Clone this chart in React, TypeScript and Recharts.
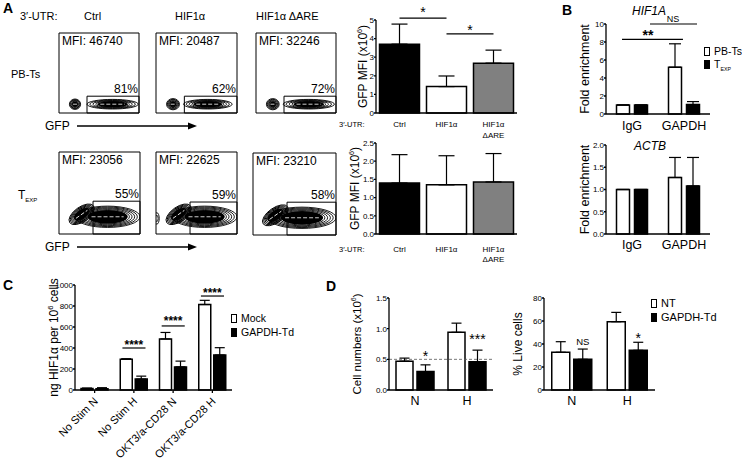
import React from 'react';
import {
  BarChart, Bar, XAxis, YAxis, Cell, ErrorBar, ReferenceLine, ReferenceDot,
  ReferenceArea, ScatterChart, Scatter,
} from 'recharts';

const FONT = '"Liberation Sans", Arial, Helvetica, sans-serif';

// ---------------- Panel A: flow cytometry ----------------
const utrLabels = ['Ctrl', 'HIF1α', 'HIF1α ΔARE'];
const pbtsMfi = ['MFI: 46740', 'MFI: 20487', 'MFI: 32246'];
const pbtsPct = ['81%', '62%', '72%'];
const texpMfi = ['MFI: 23056', 'MFI: 22625', 'MFI: 23210'];
const texpPct = ['55%', '59%', '58%'];
const pbtsGateX = [35, 35, 35];
const pbtsGateTop = [21, 21, 21];
const texpGateX = [42, 42, 41];
const texpGateTop = [40, 39, 40];
const flowTicks = [0, 5, 9, 12, 15, 18, 28, 38, 44, 48, 51, 61, 71, 77, 81, 84, 94, 100];
const pbtsBlobs = [
  [
    { x: 20, y: 11, rx: 7, ry: 6.5, rot: 0, rings: 7, core: 0.45 },
    { x: 67, y: 11, rx: 32, ry: 6, rot: 0, rings: 8, core: 0.6 },
  ],
  [
    { x: 21, y: 11, rx: 8, ry: 7, rot: 0, rings: 7, core: 0.45 },
    { x: 64, y: 11, rx: 30, ry: 6, rot: 0, rings: 8, core: 0.6 },
  ],
  [
    { x: 21, y: 11, rx: 8, ry: 7, rot: 0, rings: 7, core: 0.45 },
    { x: 66, y: 11, rx: 32, ry: 6, rot: 0, rings: 8, core: 0.6 },
  ],
];
const texpBlobs = [
  [
    { x: 60, y: 21, rx: 40, ry: 13, rot: 0, rings: 11, core: 0.62 },
    { x: 28, y: 24, rx: 18, ry: 9, rot: -35, rings: 9, core: 0.6 },
  ],
  [
    { x: 60, y: 21, rx: 40, ry: 13, rot: 0, rings: 11, core: 0.62 },
    { x: 28, y: 24, rx: 18, ry: 9, rot: -35, rings: 9, core: 0.6 },
    { x: 1, y: 19, rx: 3, ry: 7, rot: 0, rings: 2, core: 0 },
  ],
  [
    { x: 59, y: 21, rx: 41, ry: 13, rot: 0, rings: 11, core: 0.62 },
    { x: 27, y: 24, rx: 18, ry: 9, rot: -35, rings: 9, core: 0.6 },
  ],
];

// ---------------- Panel A: bar charts ----------------
const aCats = ['Ctrl', 'HIF1α', 'HIF1α\nΔARE'];
const aColors = ['#000000', '#ffffff', '#808080'];
const aPbtsMean = [3.7, 1.42, 2.68];
const aPbtsErr = [1.08, 0.57, 0.7];
const aTexpMean = [1.4, 1.35, 1.43];
const aTexpErr = [0.78, 0.8, 0.78];
// significance annotations (x as fraction of plot width)
const aSigLines = [
  { f1: 0.1667, f2: 0.5, y: 5.1 },
  { f1: 0.5, f2: 0.8333, y: 4.25 },
];
const aSigText = [
  { f: 0.3333, y: 5.45, t: '*' },
  { f: 0.6667, y: 4.45, t: '*' },
];

// ---------------- Panel B ----------------
const bCats = ['IgG', 'GAPDH'];
const bHifPbts = [1, 5.2];
const bHifPbtsErr = [0, 2.6];
const bHifTexp = [1, 1.05];
const bHifTexpErr = [0, 0.33];
const bActbPbts = [1, 1.27];
const bActbPbtsErr = [0, 0.45];
const bActbTexp = [1, 1.08];
const bActbTexpErr = [0, 0.64];
const bSigLines = [
  { f1: 0.154, f2: 0.74, y: 8.3 },
  { f1: 0.423, f2: 0.875, y: 10 },
];
const bSigText = [
  { f: 0.404, y: 8.8, t: '**', fs: 14, bold: true },
  { f: 0.644, y: 10.55, t: 'NS', fs: 9, bold: false },
];

// ---------------- Panel C ----------------
const cCats = ['No Stim N', 'No Stim H', 'OKT3/a-CD28 N', 'OKT3/a-CD28 H'];
const cMock = [15, 292, 486, 814];
const cMockErr = [3, 6, 62, 40];
const cTd = [12, 104, 220, 333];
const cTdErr = [10, 28, 55, 70];
const cSigLines = [
  { f1: 0.302, f2: 0.449, y: 400 },
  { f1: 0.552, f2: 0.699, y: 610 },
  { f1: 0.802, f2: 0.949, y: 895 },
];
const cSigText = [
  { f: 0.375, y: 430, t: '****' },
  { f: 0.625, y: 657, t: '****' },
  { f: 0.875, y: 930, t: '****' },
];

// ---------------- Panel D ----------------
const dCats = ['N', 'H'];
const dCellNT = [0.47, 0.94];
const dCellNTErr = [0.05, 0.15];
const dCellTd = [0.3, 0.46];
const dCellTdErr = [0.11, 0.19];
const dLiveNT = [32.8, 59.4];
const dLiveNTErr = [9.2, 8.1];
const dLiveTd = [26.7, 34.5];
const dLiveTdErr = [8.9, 7];
const d1SigText = [
  { f: 0.351, y: 0.55, t: '*', fs: 14 },
  { f: 0.851, y: 0.83, t: '***', fs: 14 },
];
const d2SigText = [
  { f: 0.349, y: 41.7, t: 'NS', fs: 9.5 },
  { f: 0.849, y: 45.2, t: '*', fs: 14 },
];

const aTopData = aCats.map((c, i) => ({ cat: c, v: aPbtsMean[i], e: [0, aPbtsErr[i]] }));
const aBotData = aCats.map((c, i) => ({ cat: c, v: aTexpMean[i], e: [0, aTexpErr[i]] }));
const bTopData = bCats.map((c, i) => ({ cat: c, w: bHifPbts[i], we: [0, bHifPbtsErr[i]], b: bHifTexp[i], be: [0, bHifTexpErr[i]] }));
const bBotData = bCats.map((c, i) => ({ cat: c, w: bActbPbts[i], we: [0, bActbPbtsErr[i]], b: bActbTexp[i], be: [0, bActbTexpErr[i]] }));
const cData = cCats.map((c, i) => ({ cat: c, w: cMock[i], we: [0, cMockErr[i]], b: cTd[i], be: [0, cTdErr[i]] }));
const d1Data = dCats.map((c, i) => ({ cat: c, w: dCellNT[i], we: [0, dCellNTErr[i]], b: dCellTd[i], be: [0, dCellTdErr[i]] }));
const d2Data = dCats.map((c, i) => ({ cat: c, w: dLiveNT[i], we: [0, dLiveNTErr[i]], b: dLiveTd[i], be: [0, dLiveTdErr[i]] }));

// ---------------- helpers ----------------
const Txt = ({ left, top, size = 11, children, style }: any) => (
  <div style={{ position: 'absolute', left, top, fontSize: size, lineHeight: 1, whiteSpace: 'nowrap', color: '#000', ...style }}>
    {children}
  </div>
);

const TExp = ({ size = 12 }: any) => (
  <span>T<span style={{ fontSize: size * 0.5, position: 'relative', top: size * 0.25 }}>EXP</span></span>
);

const Arrow = ({ left, top, len }: any) => (
  <svg style={{ position: 'absolute', left, top }} width={len + 2} height={10}>
    <line x1={0} y1={5} x2={len - 8} y2={5} stroke="#000" strokeWidth={1.3} />
    <polygon points={`${len - 9},1.5 ${len},5 ${len - 9},8.5`} fill="#000" />
  </svg>
);

const LegendBox = ({ left, top, fill, label, size = 11 }: any) => (
  <div style={{ position: 'absolute', left, top, display: 'flex', alignItems: 'center', whiteSpace: 'nowrap', fontSize: size, lineHeight: 1 }}>
    <div style={{ width: 4, height: 7, border: '1px solid #000', background: fill, marginRight: 4 }} />
    <span>{label}</span>
  </div>
);

function yTitle(parts: React.ReactNode, dx: number, fs: number) {
  return (props: any) => {
    const vb = props.viewBox || { x: 0, y: 0, width: 0, height: 0 };
    const x = vb.x + dx;
    const y = vb.y + vb.height / 2;
    return (
      <text x={x} y={y} transform={`rotate(-90 ${x} ${y})`} textAnchor="middle" dominantBaseline="central" fontSize={fs} fill="#000">
        {parts}
      </text>
    );
  };
}

const sup6 = (pre: string, fs: number) => [
  <tspan key="a">{pre}</tspan>,
  <tspan key="b" dy={-fs * 0.35} fontSize={fs * 0.6}>6</tspan>,
  <tspan key="c" dy={fs * 0.35}>)</tspan>,
];

const CatTick = ({ x, y, payload, fs, dy, lh }: any) => {
  const lines = String(payload.value).split('\n');
  return (
    <text x={x} y={y} textAnchor="middle" fontSize={fs} fill="#000">
      {lines.map((l, i) => (
        <tspan key={i} x={x} y={y + dy + i * lh}>{l}</tspan>
      ))}
    </text>
  );
};

const RotTick = ({ x, y, payload }: any) => (
  <text x={x + 4} y={y + 9} transform={`rotate(-45 ${x + 4} ${y + 9})`} textAnchor="end" fontSize={11} fill="#000">
    {payload.value}
  </text>
);

const makeBlobShape = (sx: number, sy: number) => (props: any) => {
  const { cx, cy, payload } = props;
  if (cx == null || cy == null) return <g />;
  const rings = [];
  for (let i = 0; i < payload.rings; i++) {
    const k = 1 - (i / payload.rings) * 0.9;
    rings.push(
      <ellipse key={i} cx={cx} cy={cy} rx={payload.rx * sx * k} ry={payload.ry * sy * k} fill="none" stroke="#000" strokeWidth={0.9} />
    );
  }
  if (payload.core > 0) {
    rings.push(
      <ellipse key="core" cx={cx} cy={cy} rx={payload.rx * sx * payload.core} ry={payload.ry * sy * payload.core} fill="#000" stroke="none" />
    );
    rings.push(
      <line key="streak" x1={cx - payload.rx * sx * payload.core * 0.8} y1={cy} x2={cx + payload.rx * sx * payload.core * 0.8} y2={cy}
        stroke="#fff" strokeWidth={0.8} strokeDasharray="4 2" />
    );
  }
  return <g transform={`rotate(${payload.rot} ${cx} ${cy})`}>{rings}</g>;
};

const pctLabel = (pct: string) => (props: any) => {
  const vb = props.viewBox || { x: 0, y: 0, width: 0, height: 0 };
  return (
    <text x={vb.x + vb.width - 1} y={vb.y - 3} textAnchor="end" fontSize={12} fill="#000">{pct}</text>
  );
};

function FlowPlot({ boxLeft, boxTop, w, h, mfi, pct, gateX, gateTop, blobs }: any) {
  const axW = 5;
  const axH = 5;
  return (
    <div style={{ position: 'absolute', left: boxLeft - axW, top: boxTop - 1 }}>
      <ScatterChart width={w + axW + 2} height={h + axH + 1} margin={{ top: 1, right: 2, bottom: 0, left: 0 }}>
        <XAxis type="number" dataKey="x" domain={[0, 100]} ticks={flowTicks} tick={false} tickSize={2} axisLine={false} height={axH} stroke="#000" allowDataOverflow />
        <YAxis type="number" dataKey="y" domain={[0, 100]} ticks={flowTicks} tick={false} tickSize={2} axisLine={false} width={axW} stroke="#000" allowDataOverflow />
        <ReferenceArea x1={0} x2={100} y1={0} y2={100} fill="none" stroke="#000" strokeWidth={1}
          label={{ value: mfi, position: 'insideTopLeft', offset: 3, fontSize: 12, fill: '#000' }} />
        <Scatter data={blobs} shape={makeBlobShape(w / 100, h / 100)} isAnimationActive={false} />
        <ReferenceArea x1={gateX} x2={100} y1={0} y2={gateTop} fill="none" stroke="#000" strokeWidth={1} label={pctLabel(pct)} />
      </ScatterChart>
    </div>
  );
}

const yTickStyle = { fontSize: 8, fill: '#000' };

// hidden helper axis "n" spans the plot width with domain [0, N-1]
const sigLines = (list: any[], n: number) =>
  list.map((s, i) => (
    <ReferenceLine key={`sl${i}`} xAxisId="n" segment={[{ x: s.f1 * (n - 1), y: s.y }, { x: s.f2 * (n - 1), y: s.y }]}
      stroke="#000" strokeWidth={1.2} ifOverflow="visible" />
  ));
const sigTexts = (list: any[], n: number, fsDefault = 14, boldDefault = false) =>
  list.map((s, i) => (
    <ReferenceDot key={`st${i}`} xAxisId="n" x={s.f * (n - 1)} y={s.y} r={0} fill="none" stroke="none" ifOverflow="visible"
      label={{ value: s.t, position: 'center', fontSize: s.fs || fsDefault, fill: '#000', fontWeight: (s.bold ?? boldDefault) ? 'bold' : 'normal' }} />
  ));

export default function App() {
  const topBoxes = [
    { l: 59, t: 33, w: 80, h: 80 },
    { l: 156, t: 33, w: 81, h: 80 },
    { l: 256, t: 33, w: 80, h: 80 },
  ];
  const botBoxes = [
    { l: 59, t: 152, w: 81, h: 82 },
    { l: 156, t: 152, w: 81, h: 82 },
    { l: 253, t: 153, w: 83, h: 82 },
  ];
  return (
    <div style={{ position: 'absolute', left: 0, top: 0, width: 742, height: 464, background: '#fff', fontFamily: FONT, color: '#000', overflow: 'hidden' }}>
      {/* Panel letters & headers */}
      <Txt left={3} top={1} size={14} style={{ fontWeight: 'bold' }}>A</Txt>
      <Txt left={20} top={11} size={11}>3′-UTR:</Txt>
      <Txt left={84} top={11} size={11}>{utrLabels[0]}</Txt>
      <Txt left={175} top={11} size={11}>{utrLabels[1]}</Txt>
      <Txt left={256} top={11} size={11}>{utrLabels[2]}</Txt>
      <Txt left={11} top={69} size={11}>PB-Ts</Txt>
      <Txt left={18} top={189} size={12}><TExp size={12} /></Txt>
      <Txt left={45} top={120} size={12}>GFP</Txt>
      <Arrow left={77} top={121} len={120} />
      <Txt left={45} top={241} size={12}>GFP</Txt>
      <Arrow left={77} top={242} len={120} />

      {topBoxes.map((b, i) => (
        <FlowPlot key={`t${i}`} boxLeft={b.l} boxTop={b.t} w={b.w} h={b.h} mfi={pbtsMfi[i]} pct={pbtsPct[i]}
          gateX={pbtsGateX[i]} gateTop={pbtsGateTop[i]} blobs={pbtsBlobs[i]} />
      ))}
      {botBoxes.map((b, i) => (
        <FlowPlot key={`b${i}`} boxLeft={b.l} boxTop={b.t} w={b.w} h={b.h} mfi={texpMfi[i]} pct={texpPct[i]}
          gateX={texpGateX[i]} gateTop={texpGateTop[i]} blobs={texpBlobs[i]} />
      ))}

      {/* Panel A top bar chart */}
      <div style={{ position: 'absolute', left: 330, top: 0 }}>
        <BarChart width={200} height={145} data={aTopData} margin={{ top: 20, right: 13, bottom: 2, left: 0 }} barCategoryGap={3.5}>
          <XAxis dataKey="cat" interval={0} tickLine={false} tickSize={0} tickMargin={0} height={30} stroke="#000" strokeWidth={1.3}
            tick={<CatTick fs={8} dy={14} lh={11} />} />
          <XAxis xAxisId="n" type="number" domain={[0, 2]} hide allowDataOverflow />
          <YAxis domain={[0, 5]} ticks={[0, 1, 2, 3, 4, 5]} width={46} tickSize={2} tickMargin={0} stroke="#000" strokeWidth={1.3}
            tick={yTickStyle} label={yTitle(sup6('GFP MFI (x10', 12), 33, 12)} />
          <Bar dataKey="v" stroke="#000" strokeWidth={1.5} isAnimationActive={false}>
            {aTopData.map((d, i) => <Cell key={i} fill={aColors[i]} />)}
            <ErrorBar dataKey="e" width={8} stroke="#000" strokeWidth={1.2} direction="y" />
          </Bar>
          {sigLines(aSigLines, 3)}
          {sigTexts(aSigText, 3)}
        </BarChart>
      </div>
      <Txt left={339} top={121} size={7.5}>3′-UTR:</Txt>

      {/* Panel A bottom bar chart */}
      <div style={{ position: 'absolute', left: 330, top: 125 }}>
        <BarChart width={200} height={145} data={aBotData} margin={{ top: 18, right: 13, bottom: 2, left: 0 }} barCategoryGap={3.5}>
          <XAxis dataKey="cat" interval={0} tickLine={false} tickSize={0} tickMargin={0} height={34} stroke="#000" strokeWidth={1.3}
            tick={<CatTick fs={8} dy={18} lh={10} />} />
          <YAxis domain={[0, 2.5]} ticks={[0, 0.5, 1, 1.5, 2, 2.5]} tickFormatter={(v: number) => v.toFixed(1)} width={46} tickSize={2} tickMargin={0}
            stroke="#000" strokeWidth={1.3} tick={yTickStyle} label={yTitle(sup6('GFP MFI (x10', 12), 25, 12)} />
          <Bar dataKey="v" stroke="#000" strokeWidth={1.5} isAnimationActive={false}>
            {aBotData.map((d, i) => <Cell key={i} fill={aColors[i]} />)}
            <ErrorBar dataKey="e" width={8} stroke="#000" strokeWidth={1.2} direction="y" />
          </Bar>
        </BarChart>
      </div>
      <Txt left={339} top={246} size={7.5}>3′-UTR:</Txt>

      {/* Panel B */}
      <Txt left={562} top={3} size={14} style={{ fontWeight: 'bold' }}>B</Txt>
      <Txt left={632} top={5} size={12} style={{ fontStyle: 'italic' }}>HIF1A</Txt>
      <div style={{ position: 'absolute', left: 570, top: 0 }}>
        <BarChart width={172} height={135} data={bTopData} margin={{ top: 24, right: 32, bottom: 0, left: 0 }} barCategoryGap={10.5} barGap={5}>
          <XAxis dataKey="cat" interval={0} tickLine={false} tickSize={0} tickMargin={0} height={21} stroke="#000" strokeWidth={1.3}
            tick={<CatTick fs={12.5} dy={16} lh={12} />} />
          <XAxis xAxisId="n" type="number" domain={[0, 1]} hide allowDataOverflow />
          <YAxis domain={[0, 10]} ticks={[0, 2, 4, 6, 8, 10]} width={36} tickSize={2} tickMargin={0} stroke="#000" strokeWidth={1.3}
            tick={yTickStyle} label={yTitle('Fold enrichment', 15, 12.5)} />
          <Bar dataKey="w" fill="#fff" stroke="#000" strokeWidth={1.5} isAnimationActive={false}>
            <ErrorBar dataKey="we" width={6} stroke="#000" strokeWidth={1.2} direction="y" />
          </Bar>
          <Bar dataKey="b" fill="#000" stroke="#000" strokeWidth={1.5} isAnimationActive={false}>
            <ErrorBar dataKey="be" width={6} stroke="#000" strokeWidth={1.2} direction="y" />
          </Bar>
          {sigLines(bSigLines, 2)}
          {sigTexts(bSigText, 2)}
        </BarChart>
      </div>
      <LegendBox left={704} top={46} fill="#fff" label="PB-Ts" size={10.5} />
      <LegendBox left={704} top={59} fill="#000" label={<TExp size={10.5} />} size={10.5} />

      <div style={{ position: 'absolute', left: 570, top: 125 }}>
        <BarChart width={172} height={135} data={bBotData} margin={{ top: 20, right: 32, bottom: 0, left: 0 }} barCategoryGap={10.5} barGap={5}>
          <XAxis dataKey="cat" interval={0} tickLine={false} tickSize={0} tickMargin={0} height={26} stroke="#000" strokeWidth={1.3}
            tick={<CatTick fs={12.5} dy={15} lh={12} />} />
          <YAxis domain={[0, 2]} ticks={[0, 0.5, 1, 1.5, 2]} tickFormatter={(v: number) => v.toFixed(1)} width={36} tickSize={2} tickMargin={0}
            stroke="#000" strokeWidth={1.3} tick={yTickStyle} label={yTitle('Fold enrichment', 15, 12.5)} />
          <Bar dataKey="w" fill="#fff" stroke="#000" strokeWidth={1.5} isAnimationActive={false}>
            <ErrorBar dataKey="we" width={6} stroke="#000" strokeWidth={1.2} direction="y" />
          </Bar>
          <Bar dataKey="b" fill="#000" stroke="#000" strokeWidth={1.5} isAnimationActive={false}>
            <ErrorBar dataKey="be" width={6} stroke="#000" strokeWidth={1.2} direction="y" />
          </Bar>
        </BarChart>
      </div>
      <Txt left={634} top={140} size={12} style={{ fontStyle: 'italic' }}>ACTB</Txt>

      {/* Panel C */}
      <Txt left={3} top={278} size={14} style={{ fontWeight: 'bold' }}>C</Txt>
      <div style={{ position: 'absolute', left: 0, top: 275 }}>
        <BarChart width={245} height={189} data={cData} margin={{ top: 10, right: 13, bottom: 0, left: 0 }} barCategoryGap={6} barGap={3}>
          <XAxis dataKey="cat" interval={0} tickSize={3} tickMargin={0} height={74} stroke="#000" strokeWidth={1.3} tick={<RotTick />} />
          <XAxis xAxisId="n" type="number" domain={[0, 3]} hide allowDataOverflow />
          <YAxis domain={[0, 1000]} ticks={[0, 200, 400, 600, 800, 1000]} width={75} tickSize={2} tickMargin={0} stroke="#000" strokeWidth={1.3}
            tick={yTickStyle}
            label={yTitle([
              <tspan key="a">ng HIF1α per 10</tspan>,
              <tspan key="b" dy={-4} fontSize={7.5}>6</tspan>,
              <tspan key="c" dy={4}> cells</tspan>,
            ], 54, 12)} />
          <Bar dataKey="w" fill="#fff" stroke="#000" strokeWidth={1.5} isAnimationActive={false}>
            <ErrorBar dataKey="we" width={5} stroke="#000" strokeWidth={1.2} direction="y" />
          </Bar>
          <Bar dataKey="b" fill="#000" stroke="#000" strokeWidth={1.5} isAnimationActive={false}>
            <ErrorBar dataKey="be" width={5} stroke="#000" strokeWidth={1.2} direction="y" />
          </Bar>
          {sigLines(cSigLines, 4)}
          {sigTexts(cSigText, 4, 12, true)}
        </BarChart>
      </div>
      <LegendBox left={231} top={313} fill="#fff" label="Mock" size={10.5} />
      <LegendBox left={231} top={327} fill="#000" label="GAPDH-Td" size={10.5} />

      {/* Panel D */}
      <Txt left={326} top={279} size={14} style={{ fontWeight: 'bold' }}>D</Txt>
      <div style={{ position: 'absolute', left: 340, top: 275 }}>
        <BarChart width={160} height={140} data={d1Data} margin={{ top: 23, right: 7, bottom: 0, left: 0 }} barCategoryGap={7} barGap={4}>
          <XAxis dataKey="cat" interval={0} tickLine={false} tickSize={0} tickMargin={0} height={25} stroke="#000" strokeWidth={1.3}
            tick={<CatTick fs={12.5} dy={15} lh={12} />} />
          <XAxis xAxisId="n" type="number" domain={[0, 1]} hide allowDataOverflow />
          <YAxis domain={[0, 1.5]} ticks={[0, 0.5, 1, 1.5]} tickFormatter={(v: number) => v.toFixed(1)} width={49} tickSize={2} tickMargin={0}
            stroke="#000" strokeWidth={1.3} tick={yTickStyle} label={yTitle(sup6('Cell numbers (x10', 11.5), 17, 11.5)} />
          <ReferenceLine y={0.5} stroke="#555" strokeWidth={0.8} strokeDasharray="3 2" />
          <Bar dataKey="w" fill="#fff" stroke="#000" strokeWidth={1.5} isAnimationActive={false}>
            <ErrorBar dataKey="we" width={5} stroke="#000" strokeWidth={1.2} direction="y" />
          </Bar>
          <Bar dataKey="b" fill="#000" stroke="#000" strokeWidth={1.5} isAnimationActive={false}>
            <ErrorBar dataKey="be" width={5} stroke="#000" strokeWidth={1.2} direction="y" />
          </Bar>
          {sigTexts(d1SigText, 2)}
        </BarChart>
      </div>

      <div style={{ position: 'absolute', left: 500, top: 275 }}>
        <BarChart width={160} height={140} data={d2Data} margin={{ top: 23, right: 5, bottom: 0, left: 0 }} barCategoryGap={7.75} barGap={4}>
          <XAxis dataKey="cat" interval={0} tickLine={false} tickSize={0} tickMargin={0} height={25} stroke="#000" strokeWidth={1.3}
            tick={<CatTick fs={12.5} dy={15} lh={12} />} />
          <XAxis xAxisId="n" type="number" domain={[0, 1]} hide allowDataOverflow />
          <YAxis domain={[0, 80]} ticks={[0, 20, 40, 60, 80]} width={44} tickSize={2} tickMargin={0}
            stroke="#000" strokeWidth={1.3} tick={yTickStyle} label={yTitle('% Live cells', 18, 12)} />
          <Bar dataKey="w" fill="#fff" stroke="#000" strokeWidth={1.5} isAnimationActive={false}>
            <ErrorBar dataKey="we" width={5} stroke="#000" strokeWidth={1.2} direction="y" />
          </Bar>
          <Bar dataKey="b" fill="#000" stroke="#000" strokeWidth={1.5} isAnimationActive={false}>
            <ErrorBar dataKey="be" width={5} stroke="#000" strokeWidth={1.2} direction="y" />
          </Bar>
          {sigTexts(d2SigText, 2)}
        </BarChart>
      </div>
      <LegendBox left={651} top={298} fill="#fff" label="NT" />
      <LegendBox left={651} top={312} fill="#000" label="GAPDH-Td" />
    </div>
  );
}
